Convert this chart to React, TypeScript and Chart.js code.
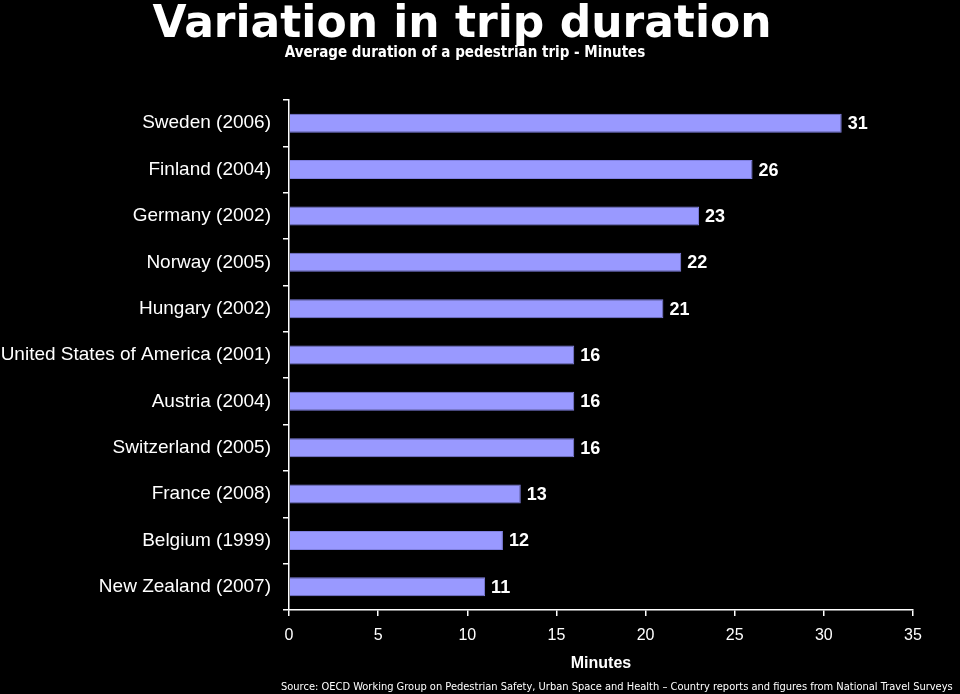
import React, { useEffect, useRef } from "react";
import { Chart, registerables } from "chart.js";

Chart.register(...registerables);

const categories = [
  "Sweden (2006)",
  "Finland (2004)",
  "Germany (2002)",
  "Norway (2005)",
  "Hungary (2002)",
  "United States of America (2001)",
  "Austria (2004)",
  "Switzerland (2005)",
  "France (2008)",
  "Belgium (1999)",
  "New Zealand (2007)",
];
const minutes = [31, 26, 23, 22, 21, 16, 16, 16, 13, 12, 11];
const xMin = 0;
const xMax = 35;
const xStep = 5;

const titleText = "Variation in trip duration";
const subtitleText = "Average duration of a pedestrian trip - Minutes";
const axisTitle = "Minutes";
const sourceText =
  "Source: OECD Working Group on Pedestrian Safety, Urban Space and Health \u2013 Country reports and figures from National Travel Surveys";

const textPlugin = {
  id: "textPlugin",
  afterDraw(chart: any) {
    const ctx = chart.ctx as CanvasRenderingContext2D;
    const area = chart.chartArea;
    ctx.save();
    ctx.fillStyle = "#ffffff";
    ctx.textBaseline = "alphabetic";
    ctx.textAlign = "center";
    ctx.font = "bold 44px 'DejaVu Sans', sans-serif";
    ctx.fillText(titleText, 462, 37);
    ctx.font = "bold 15px 'DejaVu Sans Condensed', 'DejaVu Sans', sans-serif";
    ctx.fillText(subtitleText, 465, 57);
    ctx.font = "bold 16px 'Liberation Sans', Arial, sans-serif";
    ctx.fillText(axisTitle, (area.left + area.right) / 2, 668);
    ctx.textAlign = "left";
    ctx.font = "11px 'DejaVu Sans Condensed', 'DejaVu Sans', sans-serif";
    ctx.fillText(sourceText, 281, 690);

    // data labels
    const meta = chart.getDatasetMeta(0);
    ctx.font = "bold 18px 'Liberation Sans', Arial, sans-serif";
    ctx.textBaseline = "middle";
    meta.data.forEach((bar: any, i: number) => {
      ctx.fillText(String(minutes[i]), bar.x + 6, bar.y + 1);
    });
    ctx.restore();
  },
};

export default function App() {
  const ref = useRef<HTMLCanvasElement | null>(null);
  useEffect(() => {
    document.body.style.margin = "0";
    document.body.style.background = "#000";
    const chart = new Chart(ref.current!, {
      type: "bar",
      data: {
        labels: categories,
        datasets: [
          {
            data: minutes,
            backgroundColor: "#9999ff",
            borderColor: "#8080e0",
            borderWidth: 1,
            categoryPercentage: 1,
            barPercentage: 0.41,
          },
        ],
      },
      options: {
        indexAxis: "y",
        animation: false,
        responsive: false,
        maintainAspectRatio: false,
        layout: { padding: { top: 100, right: 47, left: 0, bottom: 0 } },
        plugins: {
          legend: { display: false },
          tooltip: { enabled: false },
          title: { display: false },
        },
        scales: {
          x: {
            min: xMin,
            max: xMax,
            ticks: {
              stepSize: xStep,
              color: "#ffffff",
              font: { family: "'Liberation Sans', Arial, sans-serif", size: 16 },
              padding: 10,
              maxRotation: 0,
            },
            grid: {
              drawOnChartArea: false,
              drawTicks: true,
              tickLength: 6,
              color: "#ffffff",
              lineWidth: 1.5,
            },
            border: { color: "#ffffff", width: 1.5 },
            afterFit(scale: any) {
              scale.height = 84;
            },
          },
          y: {
            offset: true,
            ticks: {
              color: "#ffffff",
              font: { family: "'Liberation Sans', Arial, sans-serif", size: 19 },
              padding: 12,
              autoSkip: false,
            },
            grid: {
              offset: true,
              drawOnChartArea: false,
              drawTicks: true,
              tickLength: 6,
              color: "#ffffff",
              lineWidth: 1.5,
            },
            border: { color: "#ffffff", width: 1.5 },
            afterFit(scale: any) {
              scale.width = 289;
            },
          },
        },
      },
      plugins: [textPlugin],
    });
    return () => chart.destroy();
  }, []);
  return (
    <div style={{ position: "absolute", left: 0, top: 0, width: 960, height: 694, background: "#000" }}>
      <canvas ref={ref} width={960} height={694} />
    </div>
  );
}
